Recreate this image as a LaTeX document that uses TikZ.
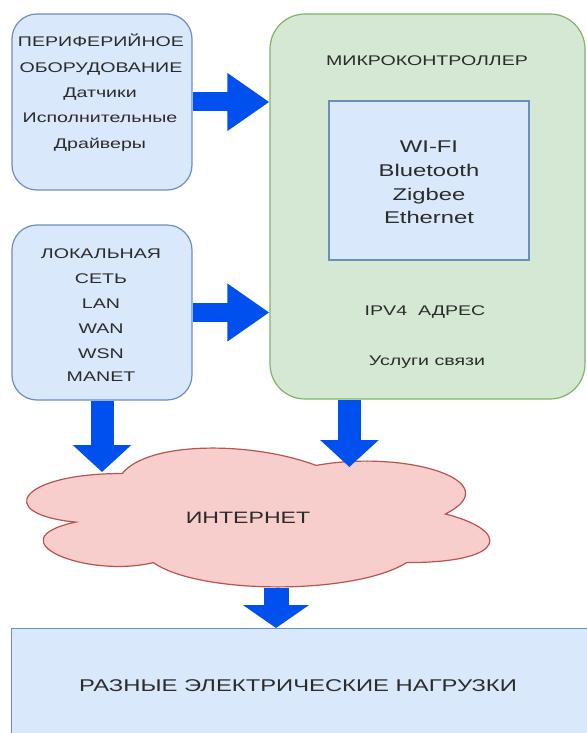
\documentclass[tikz,border=0pt]{standalone}
\usepackage{fontspec}
\setmainfont{Liberation Sans}[FakeStretch=1.4]
\usetikzlibrary{arrows.meta,calc}
\definecolor{bfill}{HTML}{DAE8FC}
\definecolor{bdraw}{HTML}{6C8EBF}
\definecolor{gfill}{HTML}{D5E8D4}
\definecolor{gdraw}{HTML}{82B366}
\definecolor{rfill}{HTML}{F8CECC}
\definecolor{rdraw}{HTML}{B85450}
\definecolor{afill}{HTML}{0050EF}
\definecolor{txt}{HTML}{2B2B2B}
\begin{document}
\begin{tikzpicture}[x=1pt,y=-1pt,
  box/.style={draw=bdraw, fill=bfill, line width=1.2pt, inner sep=0pt},
  rbox/.style={box, rounded corners=25pt},
  gbox/.style={draw=gdraw, fill=gfill, line width=1.2pt, rounded corners=35pt, inner sep=0pt},
  lbl/.style={anchor=base, inner sep=0pt, text=txt, font=\fontsize{14}{16}\selectfont},
  lblbig/.style={lbl, font=\fontsize{17}{19}\selectfont},
  lblmid/.style={lbl, font=\fontsize{16.5}{19}\selectfont},
  lblload/.style={lbl, font=\fontsize{17}{19}\selectfont},
  rarrow/.style={afill, line width=19pt, -{Triangle[length=42pt, width=55pt]}},
  darrow/.style={afill, line width=23pt, -{Triangle[length=27pt, width=57pt]}},
  barrow/.style={afill, line width=25pt, -{Triangle[length=23pt, width=65pt]}}]
\useasboundingbox (0,0) rectangle (586,733);
\fill[white] (0,0) rectangle (586,733);
% boxes
\node[rbox, minimum width=180pt, minimum height=176pt] (per) at (102,102) {};
\node[rbox, minimum width=180pt, minimum height=175pt] (lan) at (102,312.5) {};
\node[gbox, minimum width=315pt, minimum height=385pt] (mc) at (427.5,206.5) {};
\node[box, minimum width=200pt, minimum height=159pt] (radio) at (429,180.5) {};
\node[box, anchor=north west, minimum width=600pt, minimum height=130pt] (load) at (11,628) {};
% cloud
\begin{scope}[shift={(-7,433)}, xscale=517, yscale=162]
\draw[fill=rfill, draw=rdraw, line width=1.2pt]
  (0.25,0.25) .. controls (0.05,0.25) and (0,0.5) .. (0.16,0.55)
  .. controls (0,0.66) and (0.18,0.9) .. (0.31,0.8)
  .. controls (0.4,1) and (0.7,1) .. (0.8,0.8)
  .. controls (1,0.8) and (1,0.6) .. (0.875,0.5)
  .. controls (1,0.3) and (0.8,0.1) .. (0.625,0.2)
  .. controls (0.5,0.05) and (0.3,0.05) .. (0.25,0.25) -- cycle;
\end{scope}
% texts
\node[lbl] (p1) at (101,47) {ПЕРИФЕРИЙНОЕ};
\node[lbl] (p2) at (101,73) {ОБОРУДОВАНИЕ};
\node[lbl] (p3) at (100,98) {Датчики};
\node[lbl] (p4) at (100,123) {Исполнительные};
\node[lbl] (p5) at (100,148) {Драйверы};
\node[lbl] (l1) at (101,258) {ЛОКАЛЬНАЯ};
\node[lbl] (l2) at (101,283) {СЕТЬ};
\node[lbl] (l3) at (101,308) {LAN};
\node[lbl] (l4) at (101,333) {WAN};
\node[lbl] (l5) at (101,358) {WSN};
\node[lbl] (l6) at (101,381) {MANET};
\node[lbl] (m1) at (427,66) {МИКРОКОНТРОЛЛЕР};
\node[lblbig] (r1) at (429,153) {WI-FI};
\node[lblbig] (r2) at (429,176) {Bluetooth};
\node[lblbig] (r3) at (429,200) {Zigbee};
\node[lblbig] (r4) at (429,223) {Ethernet};
\node[lbl] (m2) at (425,315) {IPV4~~АДРЕС};
\node[lbl] (m3) at (427,365) {Услуги связи};
\node[lblmid] (net) at (248,523) {ИНТЕРНЕТ};
\node[lblload] (ld) at (298,691) {РАЗНЫЕ ЭЛЕКТРИЧЕСКИЕ НАГРУЗКИ};
% connector end points
\coordinate (mcout) at ($(mc.south west)+(80,0)$);
\coordinate (cltop1) at (0,472);
\coordinate (cltop2) at (0,467);
\coordinate (clbot) at (276,588);
% arrows
\draw[rarrow] (per.east) -- (per.east -| mc.west);
\draw[rarrow] (lan.east) -- (lan.east -| mc.west);
\draw[darrow] (lan.south) -- (lan.south |- cltop1);
\draw[darrow] (mcout) -- (mcout |- cltop2);
\draw[barrow] (clbot) -- (clbot |- load.north);
\end{tikzpicture}
\end{document}
